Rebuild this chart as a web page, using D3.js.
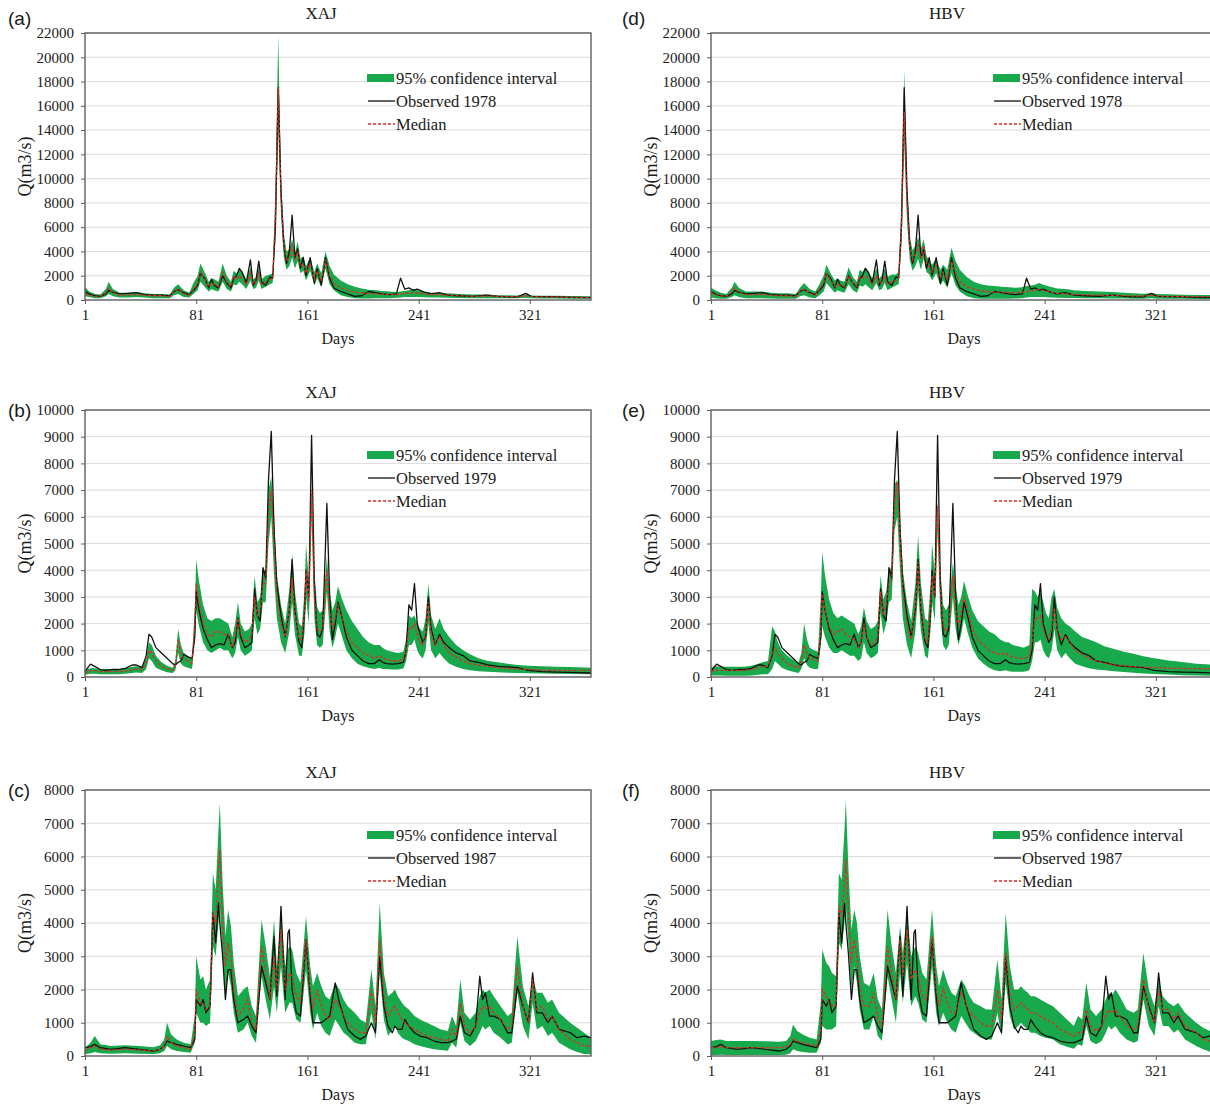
<!DOCTYPE html>
<html>
<head>
<meta charset="utf-8">
<script src="https://cdn.jsdelivr.net/npm/d3@7"></script>
<style>
body{margin:0;background:#fff;}
text{font-family:"Liberation Serif","Times New Roman",serif;fill:#1a1a1a;}
.panel-label{font-family:"Liberation Sans",Arial,sans-serif;}
</style>
</head>
<body>
<div class="chartContainer"></div>
<script>
//x axis ticks (days)
const dayTicks = [1, 81, 161, 241, 321];

//1978 - sampled days and series
const days1978 = [1,4,8,12,16,18,21,26,32,38,
44,50,56,62,65,68,72,76,79,82,
84,87,90,92,94,97,100,103,106,108,
110,112,114,117,120,122,124,126,128,131,
134,136,138,140,142,144,146,148,150,152,
154,156,158,160,163,166,168,171,174,177,
180,185,190,195,200,205,210,215,220,225,
228,231,234,237,240,245,250,256,262,270,
280,290,298,305,312,318,322,330,340,350,
365];
const obs1978 = [700,500,350,300,500,800,650,500,550,600,
450,400,400,350,700,850,600,450,800,1200,
2200,1800,1000,1700,1200,1000,2000,1400,1000,1800,
2000,2600,2300,1400,3300,1200,1600,3200,1500,1200,
1900,1800,6000,17500,9000,4500,3000,4000,7000,3500,
4200,2600,3500,2000,3500,1400,2600,1200,3500,1800,
1000,700,500,300,350,700,600,500,450,500,
1800,900,1000,800,900,650,500,600,400,350,
300,400,300,250,250,550,300,280,250,220,
200];
const medXAJ1978 = [500,400,300,300,600,1000,600,400,400,450,
400,350,350,300,700,900,500,400,900,1300,
2300,1700,1100,1400,1300,1100,2300,1500,1100,2000,
1700,2000,1800,1300,2200,1300,1500,2200,1300,1500,
1700,1800,7000,17500,8500,4500,3200,3500,4500,3300,
4000,2800,3000,2200,3000,1700,2400,1600,3300,2000,
1400,1000,800,650,600,550,500,480,450,450,
500,550,600,550,600,500,450,450,400,350,
300,320,300,280,260,350,280,260,240,220,
200];
const hiXAJ1978 = [1100,700,500,450,900,1500,900,600,600,650,
550,500,500,450,1000,1300,800,600,1400,2000,
3000,2300,1500,1800,1700,1500,3000,2000,1500,2400,
2200,2500,2300,1700,2700,1700,1900,2700,1700,2000,
2100,2200,9000,21800,10000,5500,4000,4200,5000,3900,
4800,3400,3600,2800,3500,2300,3000,2200,4000,2800,
2100,1600,1300,1100,950,850,800,750,700,650,
700,750,800,900,800,700,600,600,550,500,
450,450,400,400,380,450,380,360,340,320,
300];
const loXAJ1978 = [300,250,150,150,300,500,300,200,200,250,
200,150,150,150,400,500,250,200,500,800,
1500,1100,700,900,800,700,1500,900,700,1300,
1200,1500,1300,900,1600,900,1000,1600,900,1100,
1300,1400,5000,14000,7000,3500,2500,2800,3500,2600,
3200,2200,2400,1600,2400,1200,1800,1100,2600,1300,
800,400,250,150,120,120,150,150,150,180,
200,250,250,250,250,220,200,200,180,160,
150,150,150,140,140,180,140,130,120,110,
100];
const medHBV1978 = [600,450,350,300,700,1000,650,450,450,450,
400,350,350,300,700,900,550,400,900,1400,
2200,1600,1100,1300,1200,1100,2000,1400,1100,1900,
1800,2000,1800,1300,2000,1300,1500,2000,1300,1500,
1600,1800,6000,15500,8000,4300,3300,3800,4500,3400,
4500,3000,2800,2300,2900,1800,2300,1700,3200,2200,
1500,1100,900,750,700,650,650,600,600,650,
700,750,800,850,800,650,550,500,450,420,
400,380,360,340,330,380,320,300,290,280,
260];
const hiHBV1978 = [1000,800,600,500,1000,1500,1000,700,700,700,
600,550,550,500,1000,1400,900,700,1300,2000,
2900,2200,1600,1800,1600,1500,2700,1900,1500,2500,
2300,2700,2400,1800,2600,1800,2000,2600,1900,2100,
2100,2300,8000,18900,9500,5200,4100,4500,5200,4200,
5000,3600,3300,2900,3400,2500,2900,2500,4300,3200,
2500,1900,1500,1300,1200,1150,1100,1050,1000,1050,
1150,1200,1250,1400,1250,1100,950,900,800,750,
700,650,600,560,520,560,500,470,440,420,
400];
const loHBV1978 = [200,150,100,100,250,400,250,150,150,150,
130,100,100,100,300,400,200,150,400,700,
1400,1000,600,800,700,600,1300,800,600,1200,
1100,1300,1100,800,1400,800,900,1400,800,1000,
1200,1300,4500,13000,6500,3300,2400,2800,3400,2500,
3400,2300,2100,1600,2200,1200,1600,1000,2200,1200,
700,300,150,100,100,100,100,100,120,150,
200,250,250,250,250,200,180,170,160,150,
140,130,120,110,110,150,110,100,100,90,
80];

//1979
const days1979 = [1,3,5,8,12,16,20,25,30,35,
38,42,45,47,49,52,56,60,64,66,
68,70,72,75,78,80,81,83,86,89,
92,95,98,101,104,107,109,111,113,116,
119,121,123,125,127,129,131,133,135,137,
139,142,145,148,150,152,155,157,159,160,
162,164,166,168,170,172,175,177,179,181,
183,186,189,193,197,201,205,209,213,215,
218,222,226,230,232,234,236,238,240,242,
244,246,248,250,253,256,259,263,268,273,
278,284,291,298,305,312,320,330,340,350,
365];
const obs1979 = [200,350,480,400,280,250,280,280,320,450,
450,350,800,1600,1500,1100,900,700,500,450,
550,600,850,750,700,1500,3200,2500,1800,1400,
1100,1200,1250,1200,1600,1100,1300,2200,1500,1100,
1200,1300,3300,2300,2100,4100,3700,7400,9200,5500,
3500,2300,1500,2500,4400,2500,1300,1100,2500,4000,
3000,9050,3500,1600,1500,1800,6500,3000,1400,2000,
2800,2200,1500,1000,800,600,500,500,650,550,
500,480,500,550,1000,2700,2500,3500,2000,1600,
1300,1500,3000,1800,1200,1600,1300,1100,900,800,
600,550,450,400,380,350,250,200,180,170,
150];
const medXAJ1979 = [150,200,250,250,200,200,200,200,220,280,
300,280,500,1000,900,600,400,300,250,400,
1400,900,700,600,500,2000,3500,2800,2000,1600,
1500,1700,1700,1600,1600,1100,1500,2200,1600,1300,
1400,1600,3000,2300,2500,3500,3500,6000,7000,5000,
3000,2000,1500,2500,3700,2400,1400,1400,2500,4000,
2800,7000,3000,1800,1700,1800,4000,2500,1800,2200,
2700,2200,1700,1300,1100,900,800,700,800,700,
650,600,600,650,1000,1800,1800,2000,1600,1300,
1200,1600,2800,1600,1200,1500,1200,900,750,600,
500,450,400,350,320,300,280,260,250,250,
250];
const hiXAJ1979 = [250,300,330,330,300,300,300,300,330,380,
400,380,700,1300,1200,800,550,420,350,600,
1800,1200,900,800,700,2600,4400,3600,2700,2200,
2100,2200,2200,2100,2000,1500,2000,2800,2000,1700,
1800,2000,3800,2800,3000,4000,4000,7000,7500,6000,
3800,2700,2000,3300,4600,3200,2000,1900,3300,5000,
3600,7100,4000,2600,2400,2500,4500,3200,2500,2800,
3400,2900,2500,2100,1800,1500,1300,1200,1200,1100,
1000,950,900,950,1400,2300,2200,2300,2000,1800,
1700,2200,3500,2300,1800,2200,1800,1500,1200,1000,
850,700,600,550,500,450,420,400,380,370,
350];
const loXAJ1979 = [80,100,120,120,100,100,100,100,120,150,
170,150,300,700,600,350,250,180,150,250,
900,500,400,350,300,1400,2500,1900,1300,1000,
900,1000,1100,1000,1000,700,900,1500,1000,800,
900,1000,2200,1600,1800,2800,2800,5000,6000,3800,
2200,1300,900,1700,2800,1600,800,800,1700,3000,
2000,6000,2200,1200,1100,1200,3200,1700,1100,1500,
2000,1500,1000,700,500,400,350,300,350,300,
300,280,280,320,600,1200,1200,1400,1000,800,
700,1000,2000,1000,700,900,700,500,380,300,
250,220,200,180,160,150,140,130,120,110,
100];
const medHBV1979 = [200,250,250,250,250,250,250,250,280,350,
400,400,900,1100,900,700,500,400,350,600,
1200,900,700,650,600,1800,3100,2500,1900,1600,
1700,1800,1600,1500,1400,1100,1300,2000,1500,1200,
1300,1500,3200,2300,2700,3500,3600,6500,7300,5200,
3200,2000,1400,2700,4300,2600,1400,1300,2700,3800,
3000,6400,3200,1900,1700,1900,3800,2600,1900,2400,
3000,2400,1800,1400,1200,1000,900,850,900,800,
750,700,700,750,1300,2200,2200,2300,1800,1500,
1400,1800,2600,1800,1400,1500,1300,1000,850,700,
600,520,450,420,390,370,350,330,320,310,
300];
const hiHBV1979 = [350,400,400,380,380,380,380,380,420,500,
550,600,1900,1700,1300,1000,800,650,550,900,
2000,1400,1100,1000,950,3000,4700,3800,2900,2400,
2200,2300,2200,2100,2000,1600,1900,2600,2100,1800,
1900,2100,3800,2900,3200,4000,4100,7200,7400,6000,
4000,2800,2100,3500,5300,3500,2200,2100,3500,5000,
3900,6600,4000,2700,2500,2700,4300,3400,2700,3000,
3600,3000,2500,2100,1900,1700,1600,1400,1300,1300,
1200,1150,1100,1200,3300,3200,3000,3200,2800,2400,
2200,3000,3300,2600,2200,2000,1900,1700,1500,1400,
1300,1150,1050,950,870,780,700,620,560,500,
450];
const loHBV1979 = [50,60,60,60,50,50,50,50,60,80,
100,100,300,600,500,350,250,200,150,300,
700,450,350,300,300,1200,1900,1500,1100,900,
900,1000,900,800,800,600,700,1300,900,700,
800,900,2400,1600,2000,2800,2900,5500,6000,4000,
2200,1200,700,1700,3200,1700,800,700,1800,2800,
2100,5500,2300,1200,1000,1200,3000,1800,1200,1600,
2200,1600,1100,700,500,350,250,220,250,220,
200,200,200,250,600,1300,1300,1400,1000,800,
700,1000,1800,1000,700,900,700,500,400,330,
280,250,220,190,160,130,110,90,70,60,
40];

//1987
const days1987 = [1,5,8,12,20,30,40,50,55,58,
60,63,67,72,77,80,81,84,86,88,
91,93,95,97,98,100,102,104,106,108,
111,115,118,121,124,128,131,134,137,139,
142,145,147,148,150,153,156,160,163,165,
168,171,174,177,181,184,187,190,195,199,
203,207,210,213,216,219,222,224,226,229,
231,234,238,242,247,252,257,262,265,268,
271,274,278,282,285,287,289,292,295,300,
305,308,312,316,320,323,326,330,334,337,
342,350,355,360,365];
const obs1987 = [250,280,350,250,200,250,200,150,200,300,
450,400,350,300,250,500,1700,1500,1700,1300,
1500,4300,3400,4600,4000,3000,1700,2600,2600,1700,
1000,1100,1200,900,700,2700,2200,1700,3600,1800,
4500,1700,3700,3800,2000,1300,1200,3500,1800,1000,
1000,1000,1100,1200,2200,1600,1200,800,600,500,
600,1000,700,3000,1500,900,700,900,800,800,
1100,900,700,600,550,450,400,400,450,500,
1200,700,600,900,2400,1700,1900,1200,1200,1100,
700,700,2100,1500,1000,2500,1300,1300,1000,1200,
800,700,550,600,550];
const medXAJ1987 = [150,250,300,200,180,200,180,150,200,300,
600,400,300,250,200,700,2000,1600,1600,1400,
1500,4300,4000,5500,6200,4000,2700,3400,3000,2000,
1200,1400,1700,1000,800,3300,2500,1700,3000,2000,
3800,2000,2300,2500,2400,1800,1600,3500,2000,1400,
2000,1500,1200,1100,1700,1500,1200,1000,800,700,
700,2000,1000,3500,1800,1200,1400,1500,1300,1100,
1000,900,800,700,600,550,500,450,800,600,
1600,900,700,900,1300,1500,1400,1500,1300,1100,
800,900,2700,1500,1000,2300,1400,1500,1100,1200,
800,500,400,300,300];
const hiXAJ1987 = [250,400,600,350,300,320,300,260,320,500,
1000,650,500,400,350,1200,3000,2300,2400,2000,
2300,5500,5000,6800,7600,5200,3600,4400,3900,2800,
1800,2000,2100,1500,1200,4100,3300,2400,4100,2700,
4200,2700,3200,3300,3200,2500,2200,4200,2700,2100,
2500,2100,1800,1700,2200,2000,1700,1500,1300,1100,
1000,2600,1500,4600,2500,1800,1900,2000,1800,1600,
1500,1400,1200,1100,1000,900,800,750,1200,900,
2300,1300,1100,1300,1800,2000,1900,2000,1800,1500,
1200,1300,3600,2100,1500,2400,1900,1900,1600,1700,
1300,1000,850,700,550];
const loXAJ1987 = [50,80,120,80,70,80,70,60,80,150,
300,200,150,120,100,400,1300,1000,1000,900,
1000,3300,3000,4000,4500,3000,1900,2500,2100,1300,
700,800,1000,600,400,2400,1700,1100,2100,1300,
2700,1300,1500,1600,1600,1100,1000,2600,1300,800,
1300,900,700,600,1100,900,700,600,400,350,
350,1300,500,2500,1100,600,800,900,700,550,
500,450,350,300,250,200,180,160,400,250,
1000,450,300,450,700,900,800,900,700,550,
350,400,1900,900,500,1600,800,900,600,700,
400,200,120,60,50];
const medHBV1987 = [250,250,280,250,250,250,250,250,280,350,
500,450,400,350,300,800,2000,1800,1600,1500,
1500,4500,4200,5200,5900,4300,2800,3500,3000,2100,
1500,1500,1900,1100,900,3300,2500,1700,3500,2400,
3800,2300,2500,2600,2400,1800,1700,3600,2000,1500,
2000,1600,1300,1300,1900,1600,1300,1200,1000,900,
900,2000,1100,3100,1900,1400,1500,1600,1500,1400,
1300,1300,1200,1100,1000,800,700,600,700,700,
1400,900,750,900,1200,1400,1300,1400,1200,900,
800,900,2300,1400,1000,2000,1400,1400,1100,1300,
900,700,500,450,400];
const hiHBV1987 = [450,480,500,450,450,450,440,430,450,600,
950,750,650,550,500,1600,3200,2800,2700,2500,
2400,5500,5300,6800,7700,5500,3800,4400,4000,3000,
2200,2100,2500,1700,1400,4400,3300,2500,3900,3100,
4300,3000,3200,3300,3100,2500,2300,4400,2700,2100,
2600,2200,1900,1800,2300,2100,1800,1600,1500,1400,
1400,2900,1700,4300,2700,2000,2000,2100,2000,1900,
1800,1800,1700,1600,1500,1300,1100,900,1200,1100,
2200,1400,1200,1400,1700,1900,1800,2000,1800,1400,
1300,1400,3100,2000,1500,2300,1800,1600,1500,1600,
1300,1000,850,750,700];
const loHBV1987 = [30,30,40,30,30,30,30,30,40,80,
200,150,120,100,100,400,900,800,800,800,
900,3400,3200,4000,4500,3300,2000,2700,2200,1400,
800,800,1200,600,450,2400,1700,1000,2500,1600,
2800,1500,1700,1800,1600,1100,1000,2700,1300,900,
1300,1000,800,700,1200,1000,800,700,550,500,
500,1300,600,2200,1200,800,900,1000,900,800,
700,700,600,550,500,350,280,220,350,300,
900,450,350,450,700,900,800,900,700,500,
400,450,1700,900,600,1500,900,900,700,800,
500,300,200,130,100];

//one entry per panel, column x and row y
const panels = [
    {label:'(a)', model:'XAJ', year:1978, days:days1978, obs:obs1978, med:medXAJ1978, lo:loXAJ1978, hi:hiXAJ1978, yMax:22000, yStep:2000, left:85, top:33, h:267, row:0},
    {label:'(b)', model:'XAJ', year:1979, days:days1979, obs:obs1979, med:medXAJ1979, lo:loXAJ1979, hi:hiXAJ1979, yMax:10000, yStep:1000, left:85, top:410, h:267, row:1},
    {label:'(c)', model:'XAJ', year:1987, days:days1987, obs:obs1987, med:medXAJ1987, lo:loXAJ1987, hi:hiXAJ1987, yMax:8000, yStep:1000, left:85, top:790, h:266, row:2},
    {label:'(d)', model:'HBV', year:1978, days:days1978, obs:obs1978, med:medHBV1978, lo:loHBV1978, hi:hiHBV1978, yMax:22000, yStep:2000, left:711, top:33, h:267, row:0},
    {label:'(e)', model:'HBV', year:1979, days:days1979, obs:obs1979, med:medHBV1979, lo:loHBV1979, hi:hiHBV1979, yMax:10000, yStep:1000, left:711, top:410, h:267, row:1},
    {label:'(f)', model:'HBV', year:1987, days:days1987, obs:obs1987, med:medHBV1987, lo:loHBV1987, hi:hiHBV1987, yMax:8000, yStep:1000, left:711, top:790, h:266, row:2}
];

const plotW = 506;
const green = '#17a94b';
const red = '#e02a22';

const svg = d3.select('.chartContainer')
    .append('svg')
    .attr('width', 1210)
    .attr('height', 1105)
    .style('display', 'block');

function drawPanel(p){
    const g = svg.append('g')
        .attr('transform', `translate(${p.left}, ${p.top})`);

    const xScale = d3.scaleLinear().domain([1, 365]).range([0, plotW]);
    const yScale = d3.scaleLinear().domain([0, p.yMax]).range([p.h, 0]);
    const yTicks = d3.range(0, p.yMax + 1, p.yStep);

    //light horizontal gridlines
    g.append('g')
        .selectAll('line')
        .data(yTicks.slice(1))
        .join('line')
        .attr('x1', 0)
        .attr('x2', plotW)
        .attr('y1', d => yScale(d))
        .attr('y2', d => yScale(d))
        .attr('stroke', '#dcdcdc')
        .attr('stroke-width', 1);

    //zip the arrays into rows
    const rows = p.days.map((d, i) => ({day: d, obs: p.obs[i], med: p.med[i], lo: p.lo[i], hi: p.hi[i]}));

    //95% band
    const band = d3.area()
        .x(d => xScale(d.day))
        .y0(d => yScale(d.lo))
        .y1(d => yScale(d.hi));
    g.append('path')
        .datum(rows)
        .attr('d', band)
        .attr('fill', green);

    //observed
    const obsLine = d3.line().x(d => xScale(d.day)).y(d => yScale(d.obs));
    g.append('path')
        .datum(rows)
        .attr('d', obsLine)
        .attr('fill', 'none')
        .attr('stroke', '#111')
        .attr('stroke-width', 1.3)
        .attr('stroke-linejoin', 'round');

    //median, dashed
    const medLine = d3.line().x(d => xScale(d.day)).y(d => yScale(d.med));
    g.append('path')
        .datum(rows)
        .attr('d', medLine)
        .attr('fill', 'none')
        .attr('stroke', red)
        .attr('stroke-width', 1.3)
        .attr('stroke-dasharray', '3,2');

    //plot frame
    g.append('rect')
        .attr('width', plotW)
        .attr('height', p.h)
        .attr('fill', 'none')
        .attr('stroke', '#5e5e5e')
        .attr('stroke-width', 1.4);

    //axes
    const xAxis = d3.axisBottom(xScale)
        .tickValues(dayTicks)
        .tickFormat(d3.format('d'))
        .tickSizeInner(4)
        .tickSizeOuter(0)
        .tickPadding(5);
    g.append('g')
        .attr('class', 'x axis')
        .attr('transform', `translate(0, ${p.h})`)
        .call(xAxis)
        .call(a => a.select('.domain').remove())
        .call(a => a.selectAll('line').attr('stroke', '#5e5e5e'))
        .call(a => a.selectAll('text').style('font-size', '15px').attr('fill', '#1a1a1a'));

    const yAxis = d3.axisLeft(yScale)
        .tickValues(yTicks)
        .tickFormat(d3.format('d'))
        .tickSizeInner(4)
        .tickSizeOuter(0)
        .tickPadding(7);
    g.append('g')
        .attr('class', 'y axis')
        .call(yAxis)
        .call(a => a.select('.domain').remove())
        .call(a => a.selectAll('line').attr('stroke', '#5e5e5e'))
        .call(a => a.selectAll('text').style('font-size', '15px').attr('fill', '#1a1a1a'));

    //axis titles and headers
    g.append('text')
        .attr('x', 253)
        .attr('y', p.h + 44)
        .attr('text-anchor', 'middle')
        .style('font-size', '16px')
        .text('Days');

    g.append('text')
        .attr('transform', `translate(-54, ${p.h / 2}) rotate(-90)`)
        .attr('text-anchor', 'middle')
        .style('font-size', '18px')
        .text('Q(m3/s)');

    g.append('text')
        .attr('x', 236)
        .attr('y', p.row === 0 ? -14 : -12)
        .attr('text-anchor', 'middle')
        .style('font-size', '17px')
        .text(p.model);

    g.append('text')
        .attr('class', 'panel-label')
        .attr('x', p.left < 300 ? -77 : -89)
        .attr('y', p.row === 0 ? -8 : 7)
        .style('font-size', '19px')
        .text(p.label);

    //legend
    const lg = g.append('g').attr('transform', 'translate(282, 0)');
    lg.append('rect')
        .attr('x', 0).attr('y', 41)
        .attr('width', 27).attr('height', 8)
        .attr('fill', green);
    lg.append('line')
        .attr('x1', 1).attr('x2', 28)
        .attr('y1', 68).attr('y2', 68)
        .attr('stroke', '#111').attr('stroke-width', 1.3);
    lg.append('line')
        .attr('x1', 1).attr('x2', 28)
        .attr('y1', 91).attr('y2', 91)
        .attr('stroke', red).attr('stroke-width', 1.5)
        .attr('stroke-dasharray', '3,2');
    const labels = ['95% confidence interval', 'Observed ' + p.year, 'Median'];
    lg.selectAll('.leg-text')
        .data(labels)
        .join('text')
        .attr('class', 'leg-text')
        .attr('x', 29)
        .attr('y', (d, i) => [45, 68, 91][i])
        .attr('dy', '0.35em')
        .style('font-size', '16.5px')
        .text(d => d);
}

panels.forEach(drawPanel);
</script>
</body>
</html>
